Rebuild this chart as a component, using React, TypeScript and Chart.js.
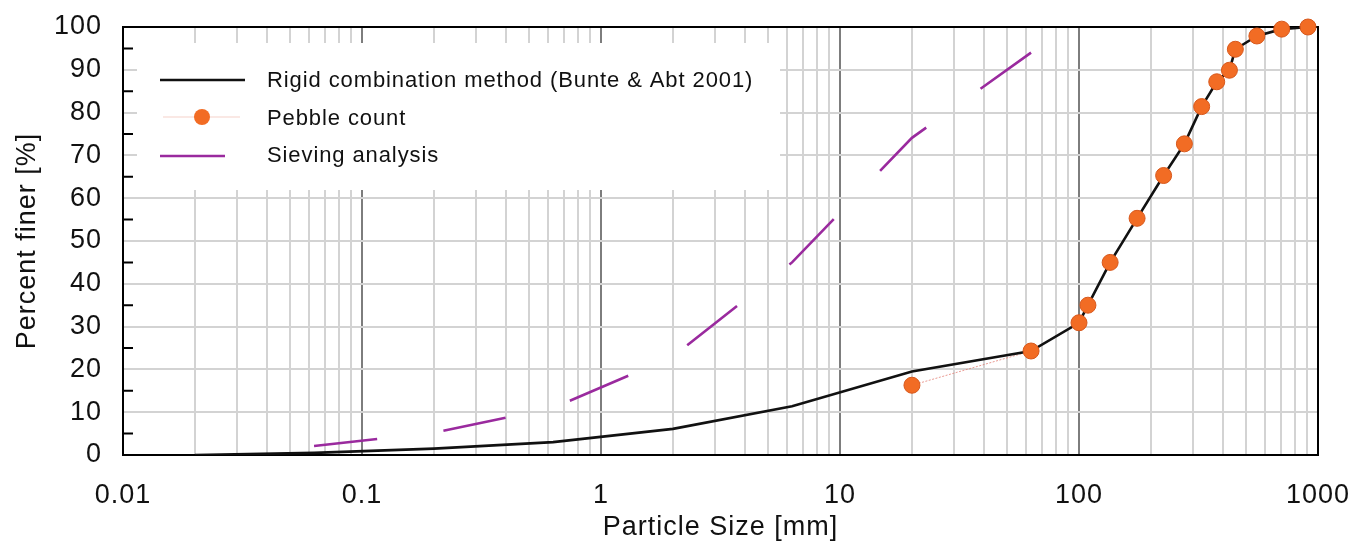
import React, { useEffect, useRef } from 'react';
import { Chart, registerables } from 'chart.js';

Chart.register(...registerables);

const seriesNames = ['Rigid combination method (Bunte & Abt 2001)', 'Pebble count', 'Sieving analysis'];

const rigidSize = [0.02, 0.063, 0.2, 0.63, 2, 6.3, 20, 63, 100, 109, 135, 175, 226, 276, 326, 377, 426, 451, 555, 705, 908];
const rigidFiner = [0, 0.5, 1.5, 3.0, 6.1, 11.4, 19.5, 24.3, 30.9, 35.0, 45.0, 55.3, 65.3, 72.7, 81.4, 87.2, 89.9, 94.8, 97.9, 99.5, 100];

const pebbleSize = [20, 63, 100, 109, 135, 175, 226, 276, 326, 377, 426, 451, 555, 705, 908];
const pebbleFiner = [16.3, 24.3, 30.9, 35.0, 45.0, 55.3, 65.3, 72.7, 81.4, 87.2, 89.9, 94.8, 97.9, 99.5, 100];

const sieveSize = [0.063, 0.2, 0.63, 2, 6.3, 20, 63];
const sieveFiner = [2.1, 5.2, 11.0, 23.0, 45.0, 74.1, 94.0];

const xTickValues = [0.01, 0.1, 1, 10, 100, 1000];
const xTickLabels = ['0.01', '0.1', '1', '10', '100', '1000'];
const xMinorMultipliers = [2, 3, 4, 5, 6, 7, 8, 9];
const yMinorTicks = [5, 15, 25, 35, 45, 55, 65, 75, 85, 95];

const FONT = '"Liberation Sans", Arial, sans-serif';
const TEXT = '#111';
const ORANGE = 'rgb(242,108,36)';
const ORANGE_DARK = 'rgb(215,88,28)';
const PURPLE = '#9a2a9e';
const SALMON = 'rgba(226,120,110,0.75)';

const toPts = (xs: number[], ys: number[]) => xs.map((x, i) => ({ x, y: ys[i] }));

const gridTicks: number[] = [];
xTickValues.forEach((d, i) => {
  gridTicks.push(d);
  if (i < xTickValues.length - 1) xMinorMultipliers.forEach((m) => gridTicks.push(d * m));
});
const isDecade = (v: number) => xTickValues.some((d) => Math.abs(v - d) / d < 1e-6);

const zeroPadding = (scale: any) => {
  scale.paddingTop = 0;
  scale.paddingBottom = 0;
  scale.paddingLeft = 0;
  scale.paddingRight = 0;
};

const spacingPlugin = {
  id: 'spacing',
  beforeDraw(chart: any) {
    chart.ctx.letterSpacing = '1px';
  },
  afterDraw(chart: any) {
    chart.ctx.letterSpacing = '0px';
  },
};

const framePlugin = {
  id: 'frameLegend',
  beforeDatasetsDraw(chart: any) {
    const { ctx, chartArea } = chart;
    const { left, right, top, bottom } = chartArea;
    const yScale = chart.scales.y;
    ctx.save();
    ctx.letterSpacing = '0px';
    ctx.strokeStyle = '#000';
    ctx.lineWidth = 2;
    ctx.beginPath();
    ctx.moveTo(left, bottom + 1);
    ctx.lineTo(left, top);
    ctx.lineTo(right, top);
    ctx.lineTo(right, bottom + 1);
    ctx.stroke();
    ctx.beginPath();
    yMinorTicks.forEach((v) => {
      const y = yScale.getPixelForValue(v);
      ctx.moveTo(left, y);
      ctx.lineTo(left + 10, y);
    });
    ctx.stroke();

    // legend box
    ctx.fillStyle = '#fff';
    ctx.fillRect(137, 43, 643, 147);
    ctx.strokeStyle = '#111';
    ctx.lineWidth = 2.5;
    ctx.beginPath();
    ctx.moveTo(160, 80);
    ctx.lineTo(245, 80);
    ctx.stroke();
    ctx.strokeStyle = 'rgba(230,150,135,0.45)';
    ctx.lineWidth = 1;
    ctx.beginPath();
    ctx.moveTo(163, 117);
    ctx.lineTo(240, 117);
    ctx.stroke();
    ctx.fillStyle = ORANGE;
    ctx.beginPath();
    ctx.arc(202, 117, 8, 0, Math.PI * 2);
    ctx.fill();
    ctx.strokeStyle = PURPLE;
    ctx.lineWidth = 2.5;
    ctx.beginPath();
    ctx.moveTo(160, 156);
    ctx.lineTo(225, 156);
    ctx.stroke();

    ctx.letterSpacing = '0.9px';
    ctx.fillStyle = TEXT;
    ctx.font = '22px ' + FONT;
    ctx.textAlign = 'left';
    ctx.textBaseline = 'middle';
    ctx.fillText(seriesNames[0], 267, 80.5);
    ctx.fillText(seriesNames[1], 267, 118.5);
    ctx.fillText(seriesNames[2], 267, 155.5);
    ctx.restore();
  },
};

export default function App() {
  const ref = useRef<HTMLCanvasElement | null>(null);
  useEffect(() => {
    if (!ref.current) return;
    const chart = new Chart(ref.current, {
      type: 'line',
      data: {
        datasets: [
          {
            label: seriesNames[1],
            data: toPts(pebbleSize, pebbleFiner),
            showLine: false,
            pointRadius: 8,
            pointBackgroundColor: ORANGE,
            pointBorderColor: ORANGE_DARK,
            pointBorderWidth: 1,
            clip: false,
          } as any,
          {
            label: seriesNames[0],
            data: toPts(rigidSize, rigidFiner),
            borderColor: '#111',
            borderWidth: 2.6,
            pointRadius: 0,
            tension: 0,
            fill: false,
          },
          {
            label: seriesNames[1] + ' line',
            data: toPts(pebbleSize, pebbleFiner),
            borderColor: SALMON,
            borderWidth: 1,
            borderDash: [2, 1.5],
            pointRadius: 0,
            tension: 0,
            fill: false,
          },
          {
            label: seriesNames[2],
            data: toPts(sieveSize, sieveFiner),
            borderColor: PURPLE,
            borderWidth: 2.6,
            borderDash: [63.5, 66.8],
            borderCapStyle: 'butt',
            pointRadius: 0,
            tension: 0,
            fill: false,
          },
        ],
      },
      options: {
        responsive: false,
        animation: false,
        devicePixelRatio: 1,
        layout: { padding: { top: 27, right: 41, bottom: 0, left: 0 } },
        plugins: { legend: { display: false }, tooltip: { enabled: false } },
        scales: {
          x: {
            type: 'logarithmic',
            min: 0.01,
            max: 1000,
            position: 'bottom',
            afterBuildTicks: (scale: any) => {
              scale.ticks = gridTicks.map((v) => ({ value: v, major: isDecade(v) }));
            },
            afterFit: (scale: any) => {
              scale.height = 88;
              zeroPadding(scale);
            },
            ticks: {
              autoSkip: false,
              maxRotation: 0,
              minRotation: 0,
              padding: 24,
              color: TEXT,
              font: { family: FONT, size: 27 },
              callback: (value: any) => {
                const i = xTickValues.findIndex((d) => Math.abs(Number(value) - d) / d < 1e-6);
                return i >= 0 ? xTickLabels[i] : '';
              },
            },
            grid: {
              drawTicks: false,
              color: (c: any) => {
                const v = c.tick ? c.tick.value : 0;
                if (Math.abs(v - 0.01) < 1e-9 || Math.abs(v - 1000) < 1e-6) return 'rgba(0,0,0,0)';
                return isDecade(v) ? '#7d7d7d' : '#d3d3d3';
              },
              lineWidth: 2,
            },
            border: { display: true, color: '#000', width: 2, z: -1 },
            title: {
              display: true,
              text: 'Particle Size [mm]',
              color: TEXT,
              font: { family: FONT, size: 27, lineHeight: 1.2 },
              padding: { top: 0, bottom: -1 },
            },
          } as any,
          y: {
            min: 0,
            max: 100,
            afterFit: (scale: any) => {
              scale.width = 123;
              zeroPadding(scale);
            },
            ticks: {
              stepSize: 10,
              padding: 21,
              color: TEXT,
              font: { family: FONT, size: 27 },
            },
            grid: {
              drawTicks: false,
              color: (c: any) => {
                const v = c.tick ? c.tick.value : 0;
                return v === 0 || v === 100 ? 'rgba(0,0,0,0)' : '#d3d3d3';
              },
              lineWidth: 2,
            },
            border: { display: false },
            title: {
              display: true,
              text: 'Percent finer [%]',
              color: TEXT,
              font: { family: FONT, size: 27, lineHeight: 1.2 },
              padding: { top: 11, bottom: 0 },
            },
          } as any,
        },
      },
      plugins: [spacingPlugin, framePlugin],
    });
    return () => chart.destroy();
  }, []);

  return (
    <div style={{ position: 'fixed', left: 0, top: 0, width: 1359, height: 543, background: '#fff' }}>
      <canvas ref={ref} width={1359} height={543} style={{ display: 'block', width: 1359, height: 543 }} />
    </div>
  );
}
